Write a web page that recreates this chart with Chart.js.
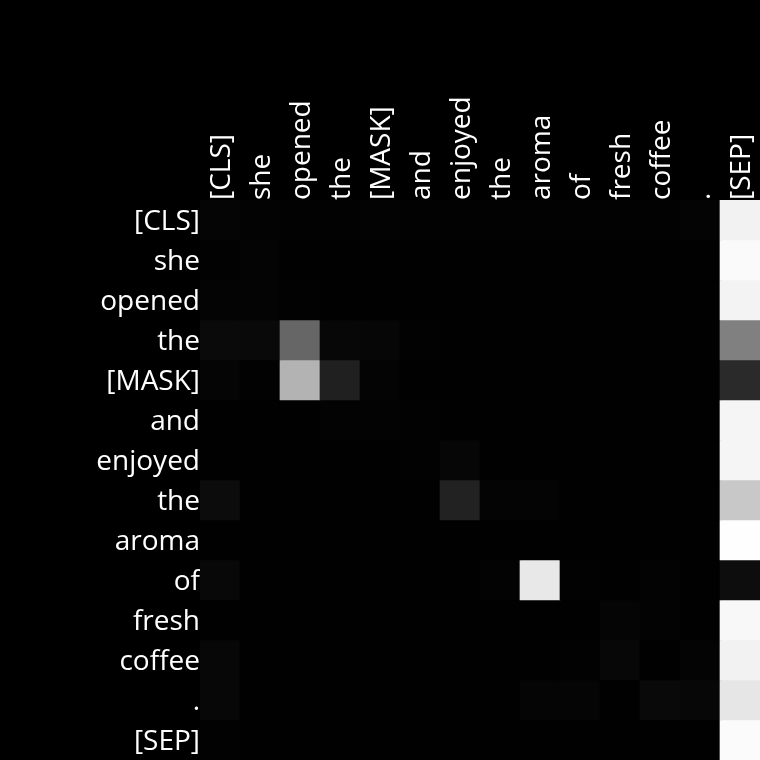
<!DOCTYPE html>
<html>
<head>
<meta charset="utf-8">
<script src="https://cdn.jsdelivr.net/npm/chart.js@4/dist/chart.umd.min.js"></script>
<style>
html,body{margin:0;padding:0;background:#000;}
#wrap{width:760px;height:760px;}
</style>
</head>
<body>
<div id="wrap"><canvas id="c" width="760" height="760"></canvas></div>
<script>
const tokens = ["[CLS]","she","opened","the","[MASK]","and","enjoyed","the","aroma","of","fresh","coffee",".","[SEP]"];

// attention weights per query row (grey intensity 0..1), columns = key tokens
const w_cls    = [0.020,0.012,0.008,0.008,0.012,0.008,0.008,0.006,0.006,0.006,0.006,0.006,0.014,0.950];
const w_she    = [0.008,0.016,0.004,0.004,0.004,0.004,0.004,0.004,0.004,0.004,0.004,0.004,0.004,0.980];
const w_opened = [0.016,0.016,0.008,0.004,0.004,0.004,0.004,0.004,0.004,0.004,0.004,0.004,0.004,0.953];
const w_the1   = [0.040,0.035,0.400,0.027,0.024,0.008,0.004,0.004,0.004,0.004,0.004,0.004,0.004,0.500];
const w_mask   = [0.020,0.008,0.700,0.125,0.016,0.004,0.004,0.004,0.004,0.004,0.004,0.004,0.004,0.165];
const w_and    = [0.004,0.004,0.004,0.012,0.012,0.008,0.004,0.004,0.004,0.004,0.004,0.004,0.004,0.960];
const w_enjoy  = [0.004,0.004,0.004,0.004,0.004,0.008,0.024,0.004,0.004,0.004,0.004,0.004,0.004,0.960];
const w_the2   = [0.047,0.004,0.004,0.004,0.004,0.004,0.133,0.016,0.014,0.004,0.004,0.004,0.004,0.784];
const w_aroma  = [0.004,0.004,0.004,0.004,0.004,0.004,0.004,0.004,0.004,0.004,0.004,0.004,0.004,0.996];
const w_of     = [0.031,0.004,0.004,0.004,0.004,0.004,0.004,0.012,0.910,0.008,0.004,0.012,0.004,0.050];
const w_fresh  = [0.004,0.004,0.004,0.004,0.004,0.004,0.004,0.004,0.004,0.004,0.020,0.012,0.004,0.973];
const w_coffee = [0.027,0.004,0.004,0.004,0.004,0.004,0.004,0.004,0.004,0.008,0.027,0.004,0.016,0.950];
const w_dot    = [0.027,0.004,0.004,0.004,0.004,0.004,0.004,0.004,0.020,0.020,0.004,0.035,0.027,0.900];
const w_sep    = [0.008,0.004,0.004,0.004,0.004,0.004,0.004,0.004,0.004,0.004,0.004,0.004,0.004,0.985];

const weights = [w_cls,w_she,w_opened,w_the1,w_mask,w_and,w_enjoy,w_the2,w_aroma,w_of,w_fresh,w_coffee,w_dot,w_sep];

function grey(v){ const g = Math.round(Math.max(0,Math.min(1,v))*255); return `rgb(${g},${g},${g})`; }

const datasets = weights.map((row, r) => ({
  label: tokens[r],
  data: row.map(() => [r - 0.5, r + 0.5]),
  backgroundColor: row.map(grey),
  borderWidth: 0,
  borderSkipped: false,
  barPercentage: 1,
  categoryPercentage: 1,
  grouped: false
}));

const bg = {
  id: 'bg',
  beforeDraw(chart){ const c = chart.ctx; c.save(); c.fillStyle = '#000'; c.fillRect(0,0,chart.width,chart.height); c.restore(); }
};

const font = { family: "'Open Sans', 'Noto Sans', sans-serif", size: 28 };

new Chart(document.getElementById('c'), {
  type: 'bar',
  data: { labels: tokens, datasets },
  plugins: [bg],
  options: {
    responsive: false,
    animation: false,
    layout: { padding: 0 },
    plugins: { legend: { display: false }, tooltip: { enabled: false } },
    scales: {
      x: {
        type: 'category',
        position: 'top',
        offset: true,
        grid: { display: false, drawTicks: false },
        border: { display: false },
        ticks: { color: '#fff', font, maxRotation: 90, minRotation: 90, padding: 0, autoSkip: false, labelOffset: 36 },
        afterFit(s){ s.height = 200; s.paddingLeft = 0; s.paddingRight = 0; }
      },
      y: {
        type: 'linear',
        min: -0.5, max: 13.5,
        reverse: true,
        grid: { display: false, drawTicks: false },
        border: { display: false },
        afterBuildTicks(axis){ axis.ticks = tokens.map((_, i) => ({ value: i })); },
        ticks: { color: '#fff', font, padding: 0, autoSkip: false, labelOffset: 2, callback: (v) => tokens[v] },
        afterFit(s){ s.width = 200; s.paddingTop = 0; s.paddingBottom = 0; }
      }
    }
  }
});
</script>
</body>
</html>
